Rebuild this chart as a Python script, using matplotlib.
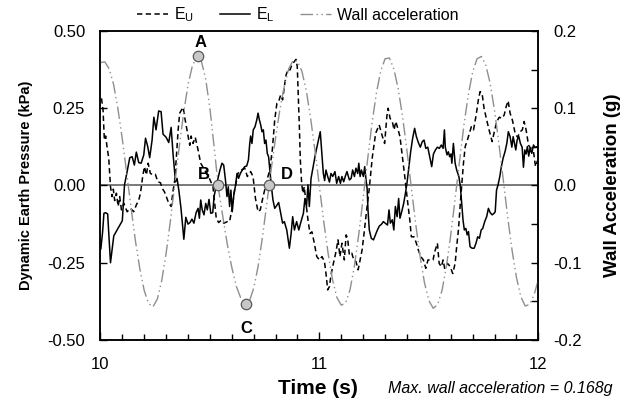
import numpy as np
import matplotlib
matplotlib.use("Agg")
import matplotlib.pyplot as plt
from matplotlib.ticker import MultipleLocator, FormatStrFormatter

# =====================================================
# DATA
# =====================================================

# upper earth pressure E_U (kPa), dashed
t_eu = [
    10.005, 10.012, 10.018, 10.024, 10.030, 10.038, 10.046, 10.053, 10.059, 10.065,
    10.073, 10.081, 10.088, 10.096, 10.107, 10.122, 10.137, 10.152, 10.164, 10.175,
    10.183, 10.193, 10.201, 10.210, 10.218, 10.228, 10.241, 10.251, 10.262, 10.274,
    10.282, 10.292, 10.301, 10.312, 10.323, 10.332, 10.338, 10.347, 10.355, 10.362,
    10.370, 10.378, 10.385, 10.393, 10.400, 10.408, 10.414, 10.423, 10.433, 10.446,
    10.458, 10.476, 10.494, 10.514, 10.529, 10.540, 10.552, 10.564, 10.580, 10.590,
    10.601, 10.613, 10.628, 10.644, 10.659, 10.671, 10.686, 10.697, 10.708, 10.720,
    10.730, 10.743, 10.758, 10.773, 10.785, 10.796, 10.806, 10.814, 10.823, 10.832,
    10.840, 10.848, 10.858, 10.866, 10.874, 10.886, 10.893, 10.899, 10.904, 10.909,
    10.913, 10.919, 10.925, 10.931, 10.939, 10.948, 10.957, 10.966, 10.977, 10.988,
    11.000, 11.012, 11.023, 11.030, 11.038, 11.046, 11.053, 11.064, 11.076, 11.085,
    11.094, 11.103, 11.114, 11.122, 11.129, 11.137, 11.148, 11.157, 11.167, 11.177,
    11.186, 11.195, 11.204, 11.216, 11.227, 11.242, 11.257, 11.273, 11.288, 11.298,
    11.308, 11.314, 11.323, 11.333, 11.341, 11.349, 11.356, 11.368, 11.379, 11.390,
    11.402, 11.413, 11.420, 11.432, 11.443, 11.452, 11.463, 11.475, 11.486, 11.496,
    11.508, 11.519, 11.527, 11.539, 11.547, 11.557, 11.565, 11.572, 11.585, 11.597,
    11.609, 11.620, 11.627, 11.635, 11.646, 11.658, 11.666, 11.676, 11.685, 11.694,
    11.704, 11.716, 11.726, 11.734, 11.743, 11.752, 11.764, 11.777, 11.789, 11.799,
    11.810, 11.822, 11.833, 11.844, 11.853, 11.862, 11.871, 11.882, 11.894, 11.905,
    11.917, 11.927, 11.935, 11.944, 11.955, 11.965, 11.978, 11.987, 11.996,
]
e_u = [
    0.282, 0.244, 0.147, 0.160, 0.126, 0.088, -0.004, -0.036, -0.012, -0.049,
    -0.025, -0.068, -0.036, -0.079, -0.058, -0.085, -0.074, -0.085, -0.063, -0.047,
    -0.025, 0.029, 0.061, 0.034, 0.072, 0.039, 0.034, 0.036, 0.012, 0.009,
    -0.009, -0.020, -0.036, -0.058, -0.068, -0.015, 0.007, 0.093, 0.180, 0.234,
    0.244, 0.253, 0.220, 0.188, 0.160, 0.130, 0.160, 0.136, 0.156, 0.115,
    0.072, 0.050, 0.029, -0.004, -0.106, -0.120, -0.112, -0.122, -0.117, -0.117,
    -0.074, -0.015, 0.039, 0.050, 0.056, 0.029, 0.045, 0.029, -0.042, -0.085,
    -0.079, -0.036, 0.009, 0.050, 0.115, 0.212, 0.266, 0.271, 0.293, 0.277,
    0.320, 0.358, 0.376, 0.374, 0.390, 0.401, 0.408, 0.385, 0.287, 0.180,
    0.083, 0.007, -0.025, -0.004, -0.058, -0.112, -0.155, -0.150, -0.187, -0.230,
    -0.241, -0.230, -0.246, -0.284, -0.338, -0.327, -0.290, -0.252, -0.214, -0.176,
    -0.230, -0.187, -0.241, -0.160, -0.171, -0.225, -0.219, -0.241, -0.246, -0.273,
    -0.241, -0.209, -0.155, -0.079, -0.015, 0.093, 0.169, 0.196, 0.158, 0.136,
    0.223, 0.250, 0.217, 0.207, 0.180, 0.207, 0.190, 0.158, 0.093, 0.029,
    -0.047, -0.112, -0.166, -0.166, -0.187, -0.209, -0.230, -0.241, -0.268, -0.241,
    -0.241, -0.241, -0.214, -0.187, -0.252, -0.263, -0.241, -0.268, -0.252, -0.262,
    -0.285, -0.252, -0.198, -0.144, -0.036, 0.072, 0.126, 0.147, 0.169, 0.190,
    0.180, 0.228, 0.277, 0.304, 0.298, 0.250, 0.212, 0.174, 0.142, 0.174,
    0.207, 0.221, 0.217, 0.228, 0.255, 0.274, 0.234, 0.210, 0.169, 0.156,
    0.174, 0.180, 0.207, 0.180, 0.131, 0.120, 0.109, 0.061, 0.080,
]

# lower earth pressure E_L (kPa), solid
t_el = [
    10.002, 10.010, 10.016, 10.023, 10.033, 10.046, 10.061, 10.076, 10.091, 10.100,
    10.110, 10.122, 10.134, 10.145, 10.155, 10.164, 10.175, 10.186, 10.198, 10.206,
    10.216, 10.225, 10.236, 10.244, 10.254, 10.266, 10.277, 10.286, 10.300, 10.312,
    10.323, 10.332, 10.343, 10.350, 10.358, 10.368, 10.381, 10.390, 10.400, 10.409,
    10.418, 10.427, 10.437, 10.446, 10.452, 10.458, 10.465, 10.473, 10.481, 10.488,
    10.496, 10.504, 10.513, 10.519, 10.528, 10.537, 10.546, 10.555, 10.563, 10.571,
    10.578, 10.584, 10.590, 10.596, 10.602, 10.610, 10.616, 10.624, 10.631, 10.639,
    10.648, 10.659, 10.668, 10.676, 10.682, 10.686, 10.692, 10.698, 10.706, 10.714,
    10.720, 10.726, 10.732, 10.738, 10.744, 10.750, 10.756, 10.762, 10.768, 10.775,
    10.781, 10.788, 10.796, 10.805, 10.814, 10.825, 10.832, 10.840, 10.851, 10.863,
    10.871, 10.878, 10.886, 10.896, 10.906, 10.916, 10.927, 10.934, 10.941, 10.948,
    10.954, 10.962, 10.969, 10.982, 10.994, 11.004, 11.011, 11.018, 11.024, 11.030,
    11.038, 11.046, 11.053, 11.061, 11.071, 11.079, 11.088, 11.096, 11.103, 11.111,
    11.119, 11.126, 11.137, 11.145, 11.152, 11.160, 11.167, 11.175, 11.180, 11.186,
    11.192, 11.201, 11.207, 11.213, 11.218, 11.222, 11.228, 11.237, 11.247, 11.256,
    11.265, 11.274, 11.283, 11.292, 11.301, 11.311, 11.318, 11.324, 11.333, 11.340,
    11.347, 11.355, 11.362, 11.368, 11.376, 11.385, 11.393, 11.400, 11.408, 11.417,
    11.426, 11.435, 11.443, 11.452, 11.461, 11.470, 11.478, 11.486, 11.495, 11.504,
    11.513, 11.521, 11.530, 11.539, 11.548, 11.557, 11.565, 11.571, 11.575, 11.583,
    11.589, 11.595, 11.601, 11.605, 11.612, 11.620, 11.627, 11.637, 11.644, 11.650,
    11.656, 11.662, 11.669, 11.675, 11.681, 11.688, 11.697, 11.707, 11.716, 11.723,
    11.731, 11.739, 11.746, 11.755, 11.764, 11.772, 11.780, 11.789, 11.798, 11.803,
    11.809, 11.816, 11.824, 11.831, 11.839, 11.848, 11.856, 11.863, 11.871, 11.879,
    11.885, 11.891, 11.897, 11.903, 11.911, 11.918, 11.926, 11.932, 11.938, 11.944,
    11.950, 11.956, 11.962, 11.970, 11.978, 11.985, 11.996,
]
e_l = [
    -0.205, -0.150, -0.090, -0.088, -0.092, -0.250, -0.163, -0.144, -0.125, -0.114,
    0.002, 0.045, 0.090, 0.093, 0.066, 0.108, 0.074, 0.072, 0.099, 0.153,
    0.126, 0.090, 0.147, 0.221, 0.180, 0.241, 0.239, 0.166, 0.156, 0.139,
    0.188, 0.099, 0.012, 0.023, -0.015, -0.074, -0.174, -0.103, -0.125, -0.120,
    -0.109, -0.122, -0.088, -0.074, -0.106, -0.047, -0.079, -0.095, -0.058, -0.079,
    -0.045, -0.090, -0.088, -0.036, -0.004, 0.023, 0.050, 0.072, 0.066, 0.018,
    -0.036, -0.004, -0.068, -0.015, -0.085, -0.025, -0.004, 0.039, 0.023, 0.039,
    0.050, 0.061, 0.063, 0.083, 0.136, 0.160, 0.136, 0.180, 0.190, 0.212,
    0.234, 0.212, 0.196, 0.174, 0.180, 0.136, 0.147, 0.104, 0.093, 0.039,
    -0.004, -0.047, -0.074, -0.065, -0.055, -0.095, -0.122, -0.117, -0.144, -0.203,
    -0.155, -0.101, -0.144, -0.117, -0.144, -0.117, -0.090, -0.042, -0.069, 0.002,
    -0.068, 0.023, 0.050, 0.102, 0.142, 0.174, 0.104, 0.039, 0.016, 0.050,
    0.029, 0.011, 0.039, 0.029, 0.045, 0.007, 0.029, 0.007, 0.029, 0.012,
    0.031, 0.045, 0.018, 0.023, 0.050, 0.029, 0.056, 0.039, 0.072, 0.029,
    0.050, 0.029, 0.061, 0.018, -0.009, -0.079, -0.144, -0.171, -0.176, -0.160,
    -0.144, -0.131, -0.126, -0.117, -0.122, -0.128, -0.079, -0.122, -0.111, -0.144,
    -0.068, -0.101, -0.042, -0.106, -0.085, -0.058, -0.025, 0.007, 0.056, 0.110,
    0.153, 0.185, 0.158, 0.139, 0.124, 0.142, 0.147, 0.120, 0.124, 0.093,
    0.061, 0.102, 0.115, 0.124, 0.120, 0.131, 0.120, 0.180, 0.124, 0.099,
    0.109, 0.093, 0.102, 0.072, 0.136, 0.072, 0.050, 0.029, -0.004, -0.058,
    -0.112, -0.144, -0.139, -0.160, -0.149, -0.198, -0.203, -0.203, -0.185, -0.166,
    -0.171, -0.144, -0.139, -0.117, -0.101, -0.074, -0.088, -0.095, -0.090, -0.085,
    -0.015, 0.002, 0.029, 0.061, 0.088, 0.110, 0.136, 0.174, 0.158, 0.124,
    0.158, 0.136, 0.115, 0.147, 0.158, 0.136, 0.124, 0.059, 0.115, 0.102,
    0.126, 0.095, 0.120, 0.104, 0.131, 0.123, 0.126,
]

# wall acceleration (g), sampled every 0.02 s from 10.00 to 12.00
t_wall = np.round(np.arange(10.0, 12.0001, 0.02), 2)
wall_acc = [
    0.159, 0.160, 0.151, 0.131, 0.099, 0.060, 0.016, -0.029, -0.072, -0.108,
    -0.136, -0.153, -0.157, -0.147, -0.123, -0.088, -0.045, 0.003, 0.050, 0.094,
    0.130, 0.155, 0.166, 0.162, 0.139, 0.100, 0.048, -0.006, -0.042, -0.077,
    -0.106, -0.130, -0.145, -0.153, -0.150, -0.133, -0.105, -0.067, -0.023, 0.021,
    0.062, 0.099, 0.129, 0.151, 0.162, 0.161, 0.148, 0.123, 0.087, 0.045,
    -0.001, -0.047, -0.088, -0.122, -0.145, -0.155, -0.152, -0.135, -0.104, -0.063,
    -0.016, 0.033, 0.080, 0.119, 0.148, 0.164, 0.165, 0.151, 0.125, 0.089,
    0.045, -0.003, -0.050, -0.092, -0.126, -0.149, -0.159, -0.154, -0.136, -0.105,
    -0.064, -0.017, 0.031, 0.078, 0.117, 0.147, 0.164, 0.167, 0.156, 0.132,
    0.097, 0.054, 0.007, -0.041, -0.084, -0.119, -0.144, -0.156, -0.154, -0.142,
    -0.122,
]

# labelled points A-D on the wall acceleration trace
point_names = ["A", "B", "C", "D"]
point_t = [10.446, 10.537, 10.666, 10.770]
point_acc = [0.167, 0.0, -0.153, 0.0]

# =====================================================
# PLOT
# =====================================================

plt.rcParams["font.family"] = ["Liberation Sans", "DejaVu Sans"]
plt.rcParams["axes.unicode_minus"] = False
plt.rcParams["mathtext.default"] = "regular"

fig = plt.figure(figsize=(6.38, 4.08), dpi=100)
ax = fig.add_axes([0.1574, 0.1667, 0.6864, 0.7574])
ax2 = ax.twinx()

ax.axhline(0, color="#555555", lw=1.1, zorder=1)

l_eu, = ax.plot(t_eu, e_u, color="black", lw=1.1, dashes=(3.5, 2.2), zorder=3)
l_el, = ax.plot(t_el, e_l, color="black", lw=1.1, zorder=3)
l_wall, = ax2.plot(t_wall, wall_acc, color="#8f8f8f", lw=1.0,
                   linestyle=(0, (9, 2.5, 1, 2.5, 1, 2.5)), zorder=2)

ax2.plot(point_t, point_acc, "o", ms=7.5, mfc="#c8c8c8", mec="#5a5a5a",
         mew=0.9, zorder=5)

offsets = {"A": (1.5, 10), "B": (-10, 8), "C": (0, -18), "D": (13, 8)}
for name, tx, ay in zip(point_names, point_t, point_acc):
    dx, dy = offsets[name]
    ax2.annotate(name, (tx, ay), xytext=(dx, dy), textcoords="offset points",
                 ha="center", va="center", fontsize=12, fontweight="bold")

ax.set_xlim(10, 12)
ax.set_ylim(-0.5, 0.5)
ax2.set_ylim(-0.2, 0.2)

ax.xaxis.set_major_locator(MultipleLocator(1))
ax.xaxis.set_minor_locator(MultipleLocator(0.1))
ax.yaxis.set_major_locator(MultipleLocator(0.25))
ax.yaxis.set_major_formatter(FormatStrFormatter("%.2f"))
ax2.yaxis.set_major_locator(MultipleLocator(0.1))
ax2.yaxis.set_minor_locator(MultipleLocator(0.05))
ax2.yaxis.set_major_formatter(FormatStrFormatter("%.1f"))

ax.tick_params(axis="x", which="major", direction="in", length=6, width=1,
               labelsize=12, pad=12)
ax.tick_params(axis="x", which="minor", direction="in", length=4, width=1)
ax.tick_params(axis="y", which="major", direction="in", length=5, width=1,
               labelsize=12, pad=11)
ax2.tick_params(axis="y", which="both", direction="in", length=5, width=1,
                labelsize=12, pad=11)

for a in (ax, ax2):
    for sp in a.spines.values():
        sp.set_linewidth(1.1)

ax.set_ylabel("Dynamic Earth Pressure (kPa)", fontsize=10.5,
              fontweight="bold", labelpad=10)
ax2.set_ylabel("Wall Acceleration (g)", fontsize=13.5, fontweight="bold",
               labelpad=16)

fig.text(318 / 638, 1 - 389 / 408, "Time (s)", fontsize=15, fontweight="bold",
         ha="center", va="center")
fig.text(388 / 638, 1 - 389 / 408, "Max. wall acceleration = 0.168g",
         fontsize=11.5, style="italic", ha="left", va="center")

fig.legend([l_eu, l_el, l_wall],
           ["$E_U$", "$E_L$", "Wall acceleration"],
           loc="center", bbox_to_anchor=(298 / 638, 1 - 15 / 408), ncol=3,
           frameon=False, fontsize=11.5, handlelength=1.9, handletextpad=0.4,
           columnspacing=1.6)

fig.savefig("out.png", dpi=100)
print("saved out.png")
